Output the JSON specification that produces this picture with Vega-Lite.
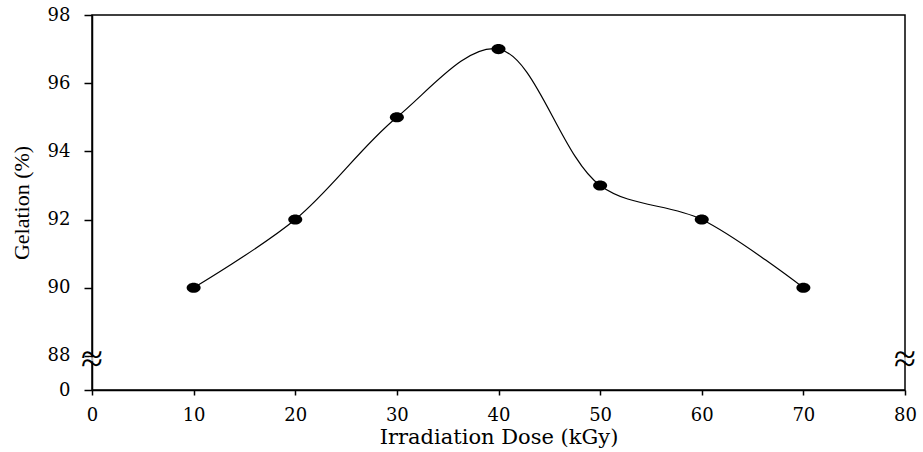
{
  "$schema": "https://vega.github.io/schema/vega-lite/v6.json",
  "width": 813,
  "height": 375,
  "autosize": "none",
  "padding": {"left": 92, "top": 15, "right": 18, "bottom": 62},
  "background": "white",
  "config": {
    "view": {"stroke": "black", "strokeWidth": 1.5},
    "axis": {
      "labelFont": "DejaVu Serif",
      "titleFont": "DejaVu Serif",
      "labelFontSize": 18,
      "titleFontSize": 21,
      "labelColor": "black",
      "titleColor": "black",
      "titleFontWeight": "normal",
      "domainColor": "black",
      "domainWidth": 1.5,
      "tickColor": "black",
      "tickWidth": 1.5,
      "labelFlush": false,
      "grid": false
    }
  },
  "datasets": {
    "gel": [
      {"dose": 10, "gelation": 90},
      {"dose": 20, "gelation": 92},
      {"dose": 30, "gelation": 95},
      {"dose": 40, "gelation": 97},
      {"dose": 50, "gelation": 93},
      {"dose": 60, "gelation": 92},
      {"dose": 70, "gelation": 90}
    ],
    "breaks": [
      {"dose": 0, "gelation": 87.9},
      {"dose": 80, "gelation": 87.9}
    ]
  },
  "encoding": {
    "x": {
      "field": "dose",
      "type": "quantitative",
      "scale": {"domain": [0, 80], "nice": false},
      "axis": {
        "title": "Irradiation Dose (kGy)",
        "values": [0, 10, 20, 30, 40, 50, 60, 70, 80],
        "tickSize": 5,
        "labelPadding": 11,
        "titlePadding": 2
      }
    },
    "y": {
      "field": "gelation",
      "type": "quantitative",
      "scale": {"domain": [87, 98], "nice": false, "zero": false},
      "axis": {
        "title": "Gelation (%)",
        "values": [87, 88, 90, 92, 94, 96, 98],
        "labelExpr": "datum.value == 87 ? '0' : datum.label",
        "tickSize": 8,
        "labelPadding": 14,
        "titlePadding": 14,
        "titleFont": "Liberation Serif",
        "titleFontSize": 22
      }
    }
  },
  "layer": [
    {
      "data": {"name": "gel"},
      "mark": {"type": "line", "interpolate": "catmull-rom", "color": "black", "strokeWidth": 1.2}
    },
    {
      "data": {"name": "gel"},
      "mark": {
        "type": "point",
        "filled": true,
        "color": "black",
        "opacity": 1,
        "size": 196,
        "shape": "M-1,0 A1,0.72 0 1,0 1,0 A1,0.72 0 1,0 -1,0 Z"
      }
    },
    {
      "data": {"name": "breaks"},
      "mark": {"type": "tick", "orient": "horizontal", "color": "white", "thickness": 4, "size": 6}
    },
    {
      "data": {"name": "breaks"},
      "mark": {"type": "text", "text": "≈", "font": "Liberation Serif", "fontSize": 40, "color": "black", "baseline": "middle", "align": "center", "dy": 1}
    }
  ]
}
